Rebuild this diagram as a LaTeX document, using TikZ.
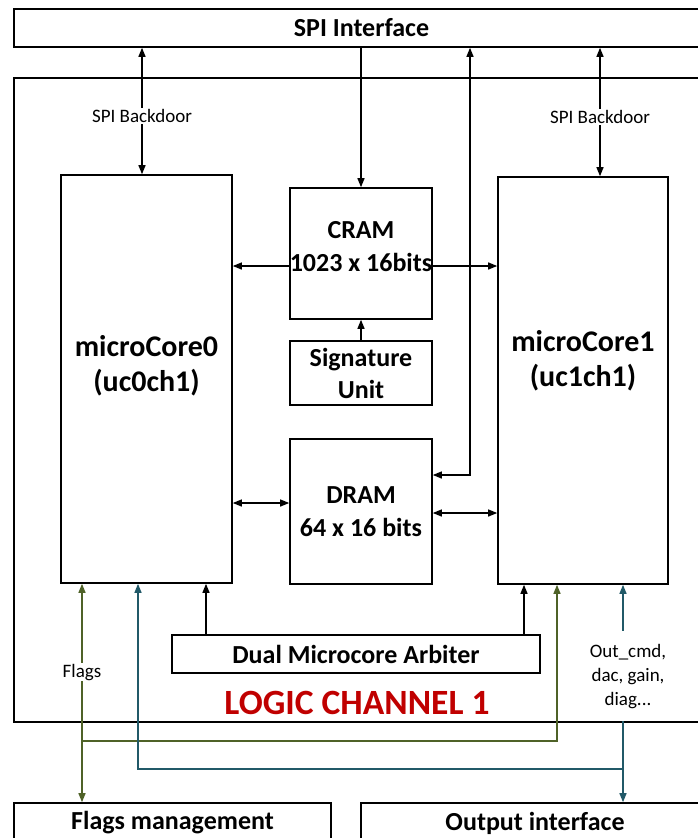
\documentclass[tikz,border=0pt]{standalone}
\usepackage{fontspec}
\setmainfont{Carlito}
\usetikzlibrary{arrows.meta}
\definecolor{flagcol}{RGB}{79,98,40}
\definecolor{outcol}{RGB}{33,89,104}
\definecolor{chanred}{RGB}{192,0,0}

\begin{document}
\begin{tikzpicture}[x=1pt,y=-1pt,
  >={Triangle[length=9pt,width=7pt]},
  blockbox/.style={draw,line width=1.6pt,inner sep=0pt,align=center,font=\fontsize{26}{32}\selectfont\bfseries},
  coretext/.style={align=center,font=\fontsize{30}{35}\selectfont\bfseries},
  link/.style={line width=1.3pt},
  lbl/.style={fill=white,inner sep=1pt,align=center,font=\fontsize{19}{24}\selectfont}]
\useasboundingbox (0,0) rectangle (698,838);

\node[blockbox,minimum width=695,minimum height=38] (spi) at (361.5,28) {SPI Interface};
\draw[line width=1.6pt] (14,78) rectangle (720,722);
\node[font=\fontsize{35.5}{40}\selectfont\bfseries,text=chanred] (chan) at (357,703) {LOGIC CHANNEL 1};

\node[blockbox,minimum width=171,minimum height=408] (mcA) at (146.5,379) {};
\node[coretext] (mcAtxt) at ([yshift=13pt]mcA.center) {microCore0\\(uc0ch1)};
\node[blockbox,minimum width=170,minimum height=407] (mcB) at (583,380.5) {};
\node[coretext] (mcBtxt) at ([yshift=20pt]mcB.center) {microCore1\\(uc1ch1)};
\node[blockbox,minimum width=142,minimum height=131] (cram) at (361,253.5) {};
\node[blockbox,draw=none] (cramtxt) at ([yshift=7pt]cram.center) {CRAM\\[1pt]1023 x 16bits};
\node[blockbox,minimum width=142,minimum height=64] (sig) at (361,373) {Signature\\Unit};
\node[blockbox,minimum width=142,minimum height=145] (dram) at (361,511.5) {DRAM\\[1pt]64 x 16 bits};
\node[blockbox,minimum width=368,minimum height=38] (arb) at (356,654) {Dual Microcore Arbiter};
\node[blockbox,minimum width=317,minimum height=40] (flags) at (172.5,823) {Flags management};
\node[blockbox,minimum width=348,minimum height=40] (outi) at (535,823) {Output interface};

% SPI side
\draw[link,<->] (142,0 |- spi.south) -- node[lbl,pos=.54] (bdA) {SPI Backdoor} (142,0 |- mcA.north);
\draw[link,<->] (600,0 |- spi.south) -- node[lbl,pos=.54] (bdB) {SPI Backdoor} (600,0 |- mcB.north);
\draw[link,->] (cram.north |- spi.south) -- (cram.north);
\draw[link,<->] (470,0 |- spi.south) |- (dram.east |- 0,475);

% memories
\draw[link,->] (cram.west |- 0,266) -- (mcA.east |- 0,266);
\draw[link,->] (cram.east |- 0,266) -- (mcB.west |- 0,266);
\draw[link,->] (sig.north) -- (cram.south);
\draw[link,<->] (mcA.east |- 0,503) -- (dram.west |- 0,503);
\draw[link,<->] (dram.east |- 0,513) -- (mcB.west |- 0,513);
\draw[link,->] (206,0 |- arb.north) -- (206,0 |- mcA.south);
\draw[link,->] (524,0 |- arb.north) -- (524,0 |- mcB.south);

% flags and outputs
\coordinate (fj) at (82,741);
\coordinate (oj) at (623,769);
\draw[link,flagcol,<->] (82,0 |- mcA.south) -- node[lbl,text=black,pos=.405] (flg) {Flags} (82,0 |- flags.north);
\draw[link,flagcol,->] (fj) -| (557,0 |- mcB.south);
\draw[link,outcol,<->] (623,0 |- mcB.south) -- node[lbl,text=black,pos=.42,xshift=5pt,minimum height=90] (ocmd) {Out\_cmd,\\dac, gain,\\diag...} (623,0 |- outi.north);
\draw[link,outcol,->] (oj) -| (138,0 |- mcA.south);

\end{tikzpicture}
\end{document}
